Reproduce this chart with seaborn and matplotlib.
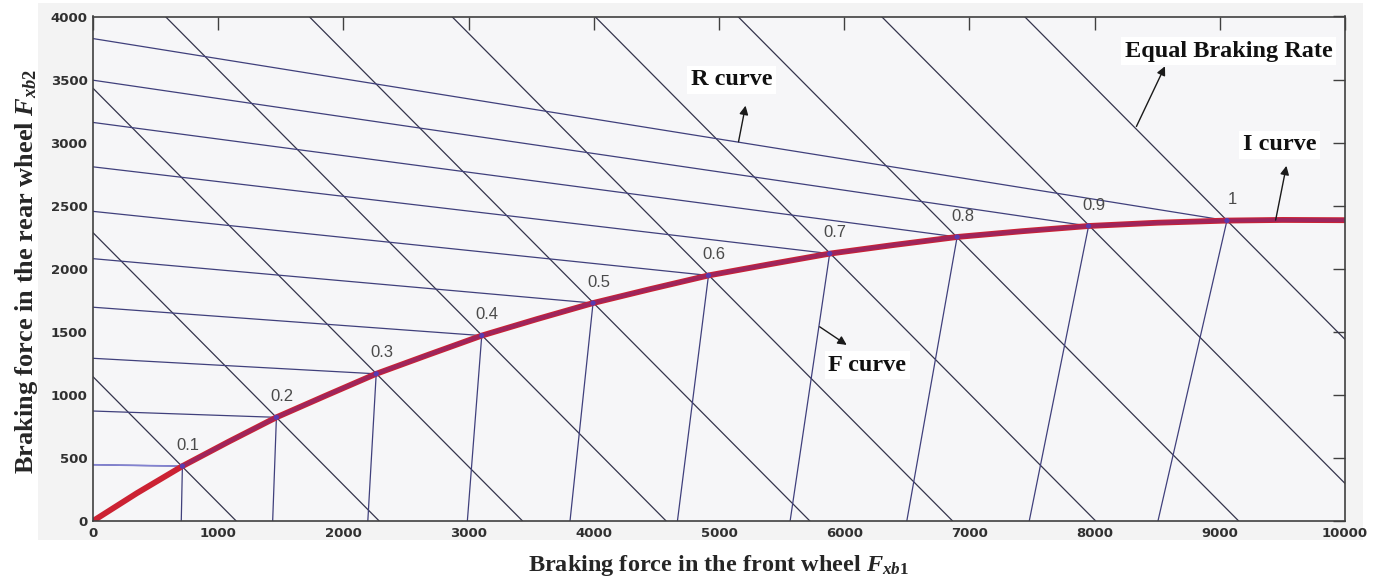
import numpy as np
import pandas as pd
import matplotlib
matplotlib.use("Agg")
import matplotlib.pyplot as plt
from matplotlib.patches import Rectangle
import seaborn as sns

# Braking rates marked on the ideal (I) curve
phi = [0.1, 0.2, 0.3, 0.4, 0.5, 0.6, 0.7, 0.8, 0.9, 1.0]

# Points of the I curve at each braking rate (front, rear braking force)
i_pt_front = [714, 1465, 2262, 3105, 3994, 4916, 5884, 6902, 7952, 9057]
i_pt_rear = [435, 822, 1167, 1470, 1728, 1947, 2120, 2252, 2339, 2382]

# Whole I curve, from the origin up to the right edge
i_curve_front = [0, 351, 714, 1086, 1465, 1864, 2262, 2684, 3105, 3547, 3994,
                 4453, 4916, 5401, 5884, 6392, 6902, 7426, 7952, 8503, 9057,
                 9500, 10000]
i_curve_rear = [0, 221, 435, 630, 822, 996, 1167, 1320, 1470, 1601, 1728,
                1839, 1947, 2035, 2120, 2188, 2252, 2298, 2339, 2365, 2382,
                2387, 2385]

# R curves: rear-wheel force where each line starts on the vertical axis
r_start_rear = [446, 872, 1290, 1695, 2080, 2455, 2808, 3160, 3495, 3825]
# F curves: front-wheel force where each line starts on the horizontal axis
f_start_front = [705, 1435, 2195, 2990, 3810, 4668, 5568, 6500, 7478, 8506]
# Equal braking rate lines: total braking force Fxb1 + Fxb2
eq_total = [1144, 2286, 3431, 4578, 5726, 6866, 8009, 9151, 10298, 11440]

x_ticks = [0, 1000, 2000, 3000, 4000, 5000, 6000, 7000, 8000, 9000, 10000]
y_ticks = [0, 500, 1000, 1500, 2000, 2500, 3000, 3500, 4000]

sns.set_theme(style="white")
plt.rcParams["font.family"] = ["DejaVu Sans"]
plt.rcParams["mathtext.fontset"] = "custom"
plt.rcParams["mathtext.it"] = "Liberation Serif:bold:italic"
plt.rcParams["mathtext.rm"] = "Liberation Serif:bold"
plt.rcParams["mathtext.bf"] = "Liberation Serif:bold"

W, H = 1373, 583
fig = plt.figure(figsize=(W / 100, H / 100), dpi=100, facecolor="white")
fig.patches.append(Rectangle((38 / W, 1 - 540 / H), (1363 - 38) / W, (540 - 3) / H,
                             transform=fig.transFigure, facecolor="#f3f3f3",
                             edgecolor="none", zorder=-5))
ax = fig.add_axes([93 / W, 1 - 521 / H, (1345 - 93) / W, (521 - 16.5) / H])
ax.set_zorder(2)
ax.set_facecolor("#f6f6f8")

# long-form tables for the three families of straight lines
rows = []
for k in range(len(phi)):
    rows.append(("R", k, 0, r_start_rear[k]))
    rows.append(("R", k, i_pt_front[k], i_pt_rear[k]))
    rows.append(("F", k, f_start_front[k], 0))
    rows.append(("F", k, i_pt_front[k], i_pt_rear[k]))
    rows.append(("EQ", k, 0, eq_total[k]))
    rows.append(("EQ", k, eq_total[k], 0))
lines = pd.DataFrame(rows, columns=["family", "line", "front", "rear"])

style = {"EQ": "#34344c", "R": "#40407c", "F": "#40407c"}
for fam, col in style.items():
    sns.lineplot(data=lines[lines.family == fam], x="front", y="rear",
                 units="line", estimator=None, sort=False, color=col,
                 lw=0.9, ax=ax, legend=False)

# lowest R curve is drawn lighter
low_r = lines[(lines.family == "R") & (lines.line == 0)]
sns.lineplot(data=low_r, x="front", y="rear", estimator=None, sort=False,
             color="#8282d2", lw=1.2, ax=ax, legend=False)

# I curve
sns.lineplot(x=i_curve_front, y=i_curve_rear, sort=False, estimator=None,
             color="#cc2233", lw=4.2, ax=ax, solid_capstyle="butt")
sns.lineplot(x=i_curve_front[2:], y=i_curve_rear[2:], sort=False, estimator=None,
             color="#5a2a9a", lw=2.8, alpha=0.4, ax=ax, solid_capstyle="butt")
sns.scatterplot(x=i_pt_front, y=i_pt_rear, color="#5a3ab0", s=14, ax=ax,
                edgecolor="none", zorder=5)

for p, xf, yr in zip(phi, i_pt_front, i_pt_rear):
    ax.annotate(f"{p:g}", xy=(xf, yr), xytext=(4, 15), textcoords="offset points",
                ha="center", va="center", fontsize=12, color="#4a4a4a",
                family="Liberation Sans")

ax.set_xlim(0, 10000)
ax.set_ylim(0, 4000)
ax.set_xticks(x_ticks)
ax.set_yticks(y_ticks)
ax.set_xticklabels([str(t) for t in x_ticks])
ax.set_yticklabels([str(t) for t in y_ticks])
ax.tick_params(axis="both", direction="in", length=9, width=1.0, color="#404040",
               labelsize=9.5, labelcolor="#303030", top=True, right=True, pad=4)
for lab in ax.get_xticklabels() + ax.get_yticklabels():
    lab.set_fontweight("bold")
for sp in ax.spines.values():
    sp.set_color("#404040")
    sp.set_linewidth(1.2)

ax.set_xlabel(r"Braking force in the front wheel $F_{xb1}$", fontsize=17.5,
              family="Liberation Serif", fontweight="bold", va="center")
ax.set_ylabel(r"Braking force in the rear wheel $F_{xb2}$", fontsize=19,
              family="Liberation Serif", fontweight="bold", va="center")
ax.xaxis.set_label_coords((718 - 93) / 1252, (521 - 566) / 504.5)
ax.yaxis.set_label_coords((27 - 93) / 1252, (521 - 271) / 504.5)

box = dict(boxstyle="square,pad=0.15", fc="white", ec="none")
arrow = dict(arrowstyle="-|>", color="#1a1a1a", lw=1.0, mutation_scale=13,
             shrinkA=0, shrinkB=0)
notes = [
    ("R curve", (5101, 3497), (5156, 3007), (5212, 3293)),
    ("Equal Braking Rate", (9073, 3724), (8334, 3128), (8562, 3605)),
    ("I curve", (9479, 2983), (9446, 2386), (9532, 2816)),
    ("F curve", (6184, 1236), (5804, 1540), (6020, 1396)),
]
for txt, pos, tail, tip in notes:
    ax.text(pos[0], pos[1], txt, ha="center", va="center", fontsize=17.5,
            family="Liberation Serif", fontweight="bold", color="#111111",
            bbox=box, zorder=6)
    ax.annotate("", xy=tip, xytext=tail, arrowprops=arrow, zorder=6)

fig.savefig("out.png", dpi=100, facecolor="white")
